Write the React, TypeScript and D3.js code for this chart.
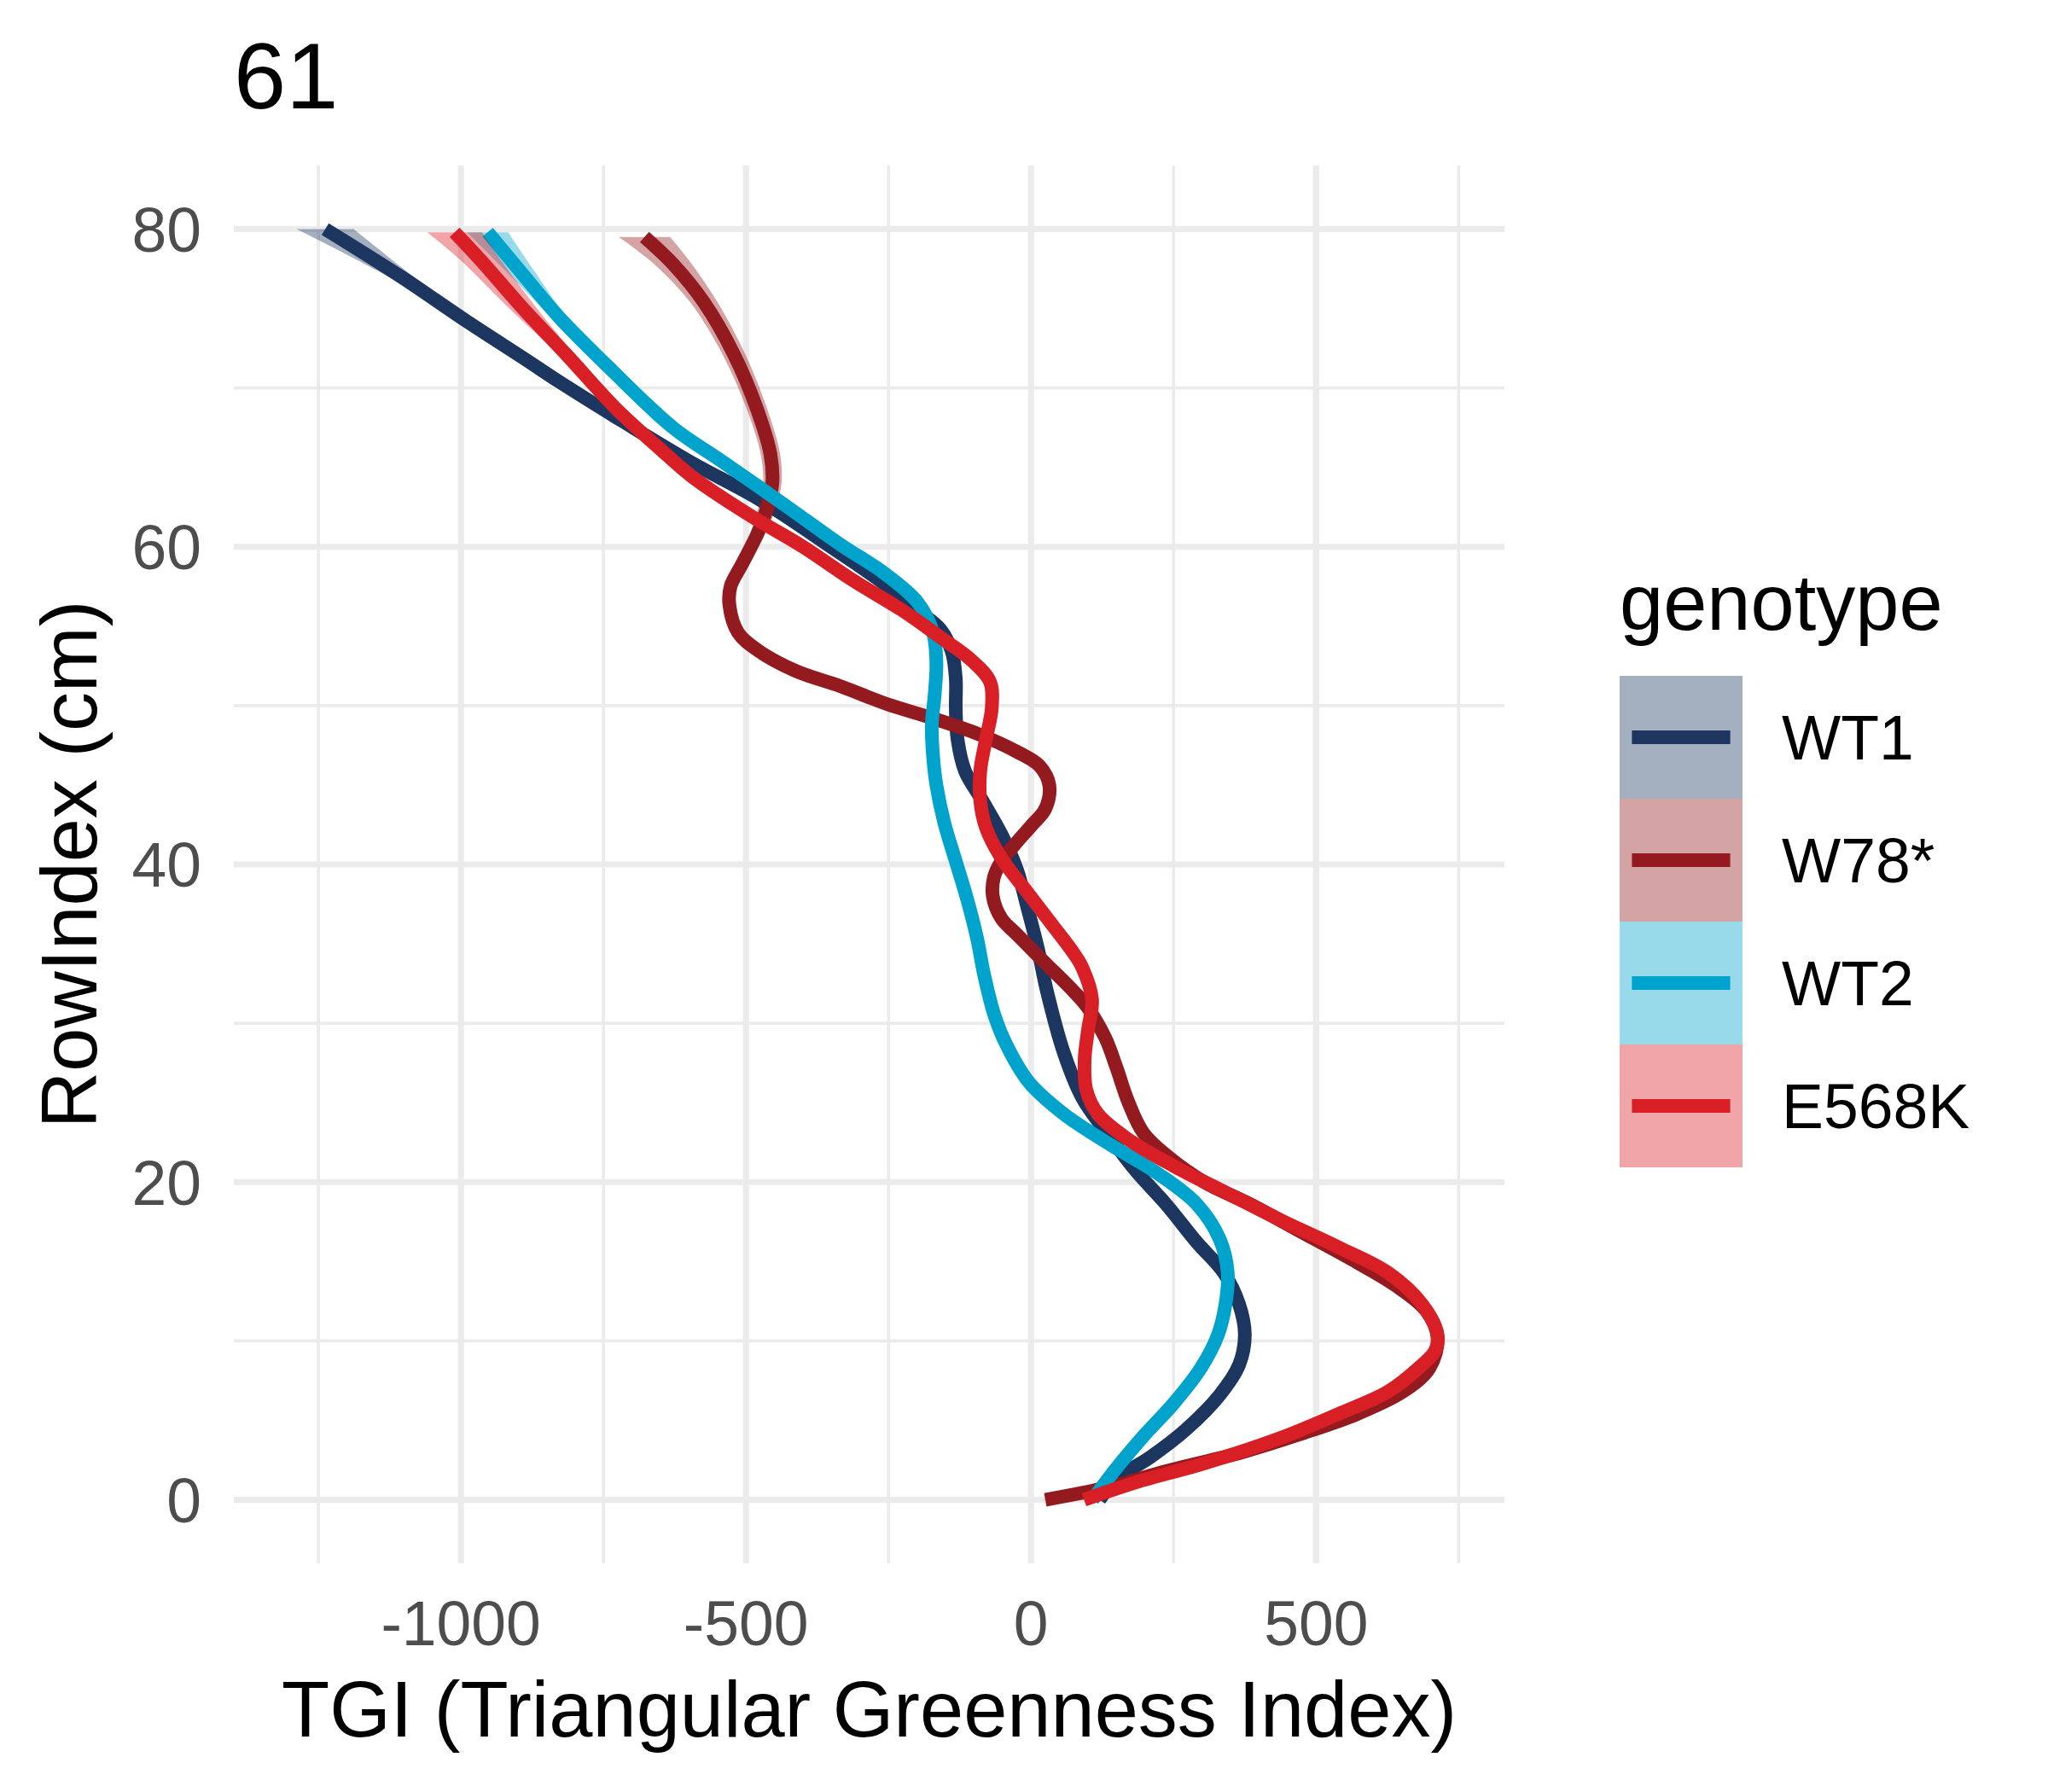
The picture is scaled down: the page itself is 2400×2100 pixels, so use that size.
import React, { useEffect } from 'react';
import * as d3 from 'd3';

type Pt = [number, number, number?];

const GENOTYPES = ['WT1', 'W78*', 'WT2', 'E568K'];
const LINE_COLOURS = ['#1C3660', '#931B1F', '#00A3CB', '#D91F26'];

// [RowIndex, TGI, half width of the smoothing band]
const WT1_TRACE: Pt[] = [
  [80, -1238, 50], [77, -1105, 22], [74.2, -990, 9], [71.8, -887], [70.4, -828],
  [68.2, -730], [65.35, -598], [62.95, -475], [59.9, -347], [57.9, -266],
  [56.0, -199], [54.8, -159], [53.4, -139], [51.7, -132], [49.8, -132],
  [47.9, -129], [45.9, -116], [44.0, -85], [41.9, -52], [39.7, -25],
  [37.1, -5], [34.7, 12], [32.0, 28], [28.2, 57], [25.3, 90], [22.9, 137],
  [20.7, 184], [18.6, 237], [16.2, 291], [14.3, 338], [12.3, 365], [10.4, 375],
  [8.5, 365], [6.6, 331], [4.4, 271], [2.7, 210], [1.3, 150], [0, 120],
];

const W78_TRACE: Pt[] = [
  [79.5, -678, 45], [77.8, -628, 33], [75.4, -574, 24], [72.1, -521, 20],
  [68.7, -481, 18], [65.8, -457, 17], [63.9, -454, 16], [62.0, -467, 15],
  [60.8, -480, 13], [58.9, -507, 11], [57.5, -527, 10], [56.3, -529, 9],
  [54.6, -514, 8], [53.5, -480], [52.2, -414], [51.2, -333], [50.1, -253],
  [49.2, -172], [48.2, -92], [47.1, -25], [46.2, 15], [45.0, 32], [43.5, 25],
  [42.5, 2], [41.4, -25], [40.2, -52], [39.2, -65], [38.0, -67], [36.6, -52],
  [35.6, -25], [33.9, 22], [32.0, 75], [31.1, 97], [29.1, 130], [27.2, 150],
  [25.1, 170], [23.1, 197], [21.7, 237], [20.0, 304], [18.6, 385], [16.9, 472],
  [15.2, 559], [13.5, 639], [11.9, 693], [10.2, 713], [8.3, 699], [6.8, 652],
  [5.4, 572], [4.2, 478], [3.0, 371], [1.8, 237], [0.8, 137], [0, 25],
];

const WT2_TRACE: Pt[] = [
  [79.8, -953, 36], [77.35, -896, 25], [74.5, -829, 14], [71.1, -735, 8],
  [67.5, -628], [65.35, -541], [62.5, -427], [60.1, -333], [58.4, -260],
  [56.5, -199], [54.6, -172], [52.7, -166], [50.7, -169], [48.8, -174],
  [46.9, -172], [45.0, -166], [42.6, -152], [40.2, -132], [37.8, -112],
  [35.4, -95], [33.0, -82], [30.6, -65], [28.7, -44], [26.3, -4], [24.3, 57],
  [22.4, 137], [20.5, 224], [18.6, 291], [16.4, 331], [14.3, 345], [12.3, 341],
  [10.4, 328], [8.3, 298], [6.1, 251], [4.0, 197], [2.0, 150], [0, 108],
];

const E568K_TRACE: Pt[] = [
  [79.8, -1011, 48], [77.95, -963, 35], [75.2, -896, 25], [72.1, -815, 14],
  [68.7, -728, 8], [66.3, -655, 7], [64.4, -594], [62.0, -494], [60.0, -400],
  [57.9, -313], [56.0, -226], [54.3, -159], [52.9, -106], [51.5, -72],
  [49.8, -69], [47.9, -79], [45.9, -89], [44.0, -89], [42.3, -79], [40.4, -52],
  [38.5, -12], [36.3, 35], [34.4, 75], [33.5, 90], [31.5, 107], [29.6, 100],
  [27.7, 94], [25.8, 97], [24.3, 117], [22.7, 170], [21.0, 251], [19.3, 344],
  [17.6, 438], [15.9, 539], [14.3, 626], [12.3, 686], [10.4, 713], [9.4, 709],
  [8.3, 680], [6.8, 626], [5.4, 539], [3.9, 438], [2.3, 304], [1.1, 184], [0, 93],
];

const TRACES = [WT1_TRACE, W78_TRACE, WT2_TRACE, E568K_TRACE];

const TGI_RANGE = [-1297, 729];
const ROW_RANGE = [0, 80];
const X_MAJOR = [-1000, -500, 0, 500];
const X_MINOR = [-1250, -750, -250, 250, 750];
const Y_MAJOR = [0, 20, 40, 60, 80];
const Y_MINOR = [10, 30, 50, 70];

const FONT = '"Liberation Sans", Arial, sans-serif';
const DEFAULT_SE = 6;

const expand = (r: number[]) => {
  const pad = (r[1] - r[0]) * 0.05;
  return [r[0] - pad, r[1] + pad];
};

const App: React.FC = () => {
  useEffect(() => {
    document.body.style.margin = '0';
  }, []);

  const width = 2400;
  const height = 2100;
  const panel = { left: 274, right: 1763, top: 194, bottom: 1832 };

  const x = d3.scaleLinear().domain(expand(TGI_RANGE)).range([panel.left, panel.right]);
  const y = d3.scaleLinear().domain(expand(ROW_RANGE)).range([panel.bottom, panel.top]);

  const curve = d3.curveCatmullRom.alpha(0.5);
  const line = d3.line<Pt>()
    .x(d => x(d[1]))
    .y(d => y(d[0]))
    .curve(curve);
  const band = d3.area<Pt>()
    .y(d => y(d[0]))
    .x0(d => x(d[1] - (d[2] ?? DEFAULT_SE)))
    .x1(d => x(d[1] + (d[2] ?? DEFAULT_SE)))
    .curve(curve);

  const grid = '#EBEBEB';
  const keySize = 144;
  const legendX = 1898;
  const legendY = 792;

  return (
    <svg width={width} height={height} style={{ display: 'block', background: '#fff' }} fontFamily={FONT}>
      <rect width={width} height={height} fill="#fff" />

      {/* grid */}
      {X_MINOR.map(v => (
        <line key={`xm${v}`} x1={x(v)} x2={x(v)} y1={panel.top} y2={panel.bottom} stroke={grid} strokeWidth={3.6} />
      ))}
      {Y_MINOR.map(v => (
        <line key={`ym${v}`} x1={panel.left} x2={panel.right} y1={y(v)} y2={y(v)} stroke={grid} strokeWidth={3.6} />
      ))}
      {X_MAJOR.map(v => (
        <line key={`xM${v}`} x1={x(v)} x2={x(v)} y1={panel.top} y2={panel.bottom} stroke={grid} strokeWidth={7.2} />
      ))}
      {Y_MAJOR.map(v => (
        <line key={`yM${v}`} x1={panel.left} x2={panel.right} y1={y(v)} y2={y(v)} stroke={grid} strokeWidth={7.2} />
      ))}

      {/* smooths: band then line, group by group */}
      {TRACES.map((t, i) => (
        <g key={GENOTYPES[i]}>
          <path d={band(t) || ''} fill={LINE_COLOURS[i]} fillOpacity={0.4} />
          <path d={line(t) || ''} fill="none" stroke={LINE_COLOURS[i]} strokeWidth={16} strokeLinecap="butt" strokeLinejoin="round" />
        </g>
      ))}

      {/* axes */}
      {Y_MAJOR.map(v => (
        <text key={`yl${v}`} x={236} y={y(v)} dy="0.358em" textAnchor="end" fontSize={73.3} fill="#4D4D4D">{v}</text>
      ))}
      {X_MAJOR.map(v => (
        <text key={`xl${v}`} x={x(v)} y={1928} textAnchor="middle" fontSize={73.3} fill="#4D4D4D">{v}</text>
      ))}
      <text x={(panel.left + panel.right) / 2} y={2035} textAnchor="middle" fontSize={92} fill="#000">
        TGI (Triangular Greenness Index)
      </text>
      <text transform={`translate(113,${(panel.top + panel.bottom) / 2}) rotate(-90)`} textAnchor="middle" fontSize={92} fill="#000">
        RowIndex (cm)
      </text>

      <text x={panel.left} y={127} fontSize={110} fill="#000">61</text>

      {/* legend */}
      <text x={legendX} y={738} fontSize={92} fill="#000">genotype</text>
      {GENOTYPES.map((g, i) => {
        const top = legendY + i * keySize;
        return (
          <g key={`lg${g}`}>
            <rect x={legendX} y={top} width={keySize} height={keySize} fill={LINE_COLOURS[i]} fillOpacity={0.4} />
            <line x1={legendX + keySize * 0.1} x2={legendX + keySize * 0.9} y1={top + keySize / 2} y2={top + keySize / 2}
              stroke={LINE_COLOURS[i]} strokeWidth={16} />
            <text x={2088} y={top + keySize / 2} dy="0.358em" fontSize={73.3} fill="#000">{g}</text>
          </g>
        );
      })}
    </svg>
  );
};

export default App;
